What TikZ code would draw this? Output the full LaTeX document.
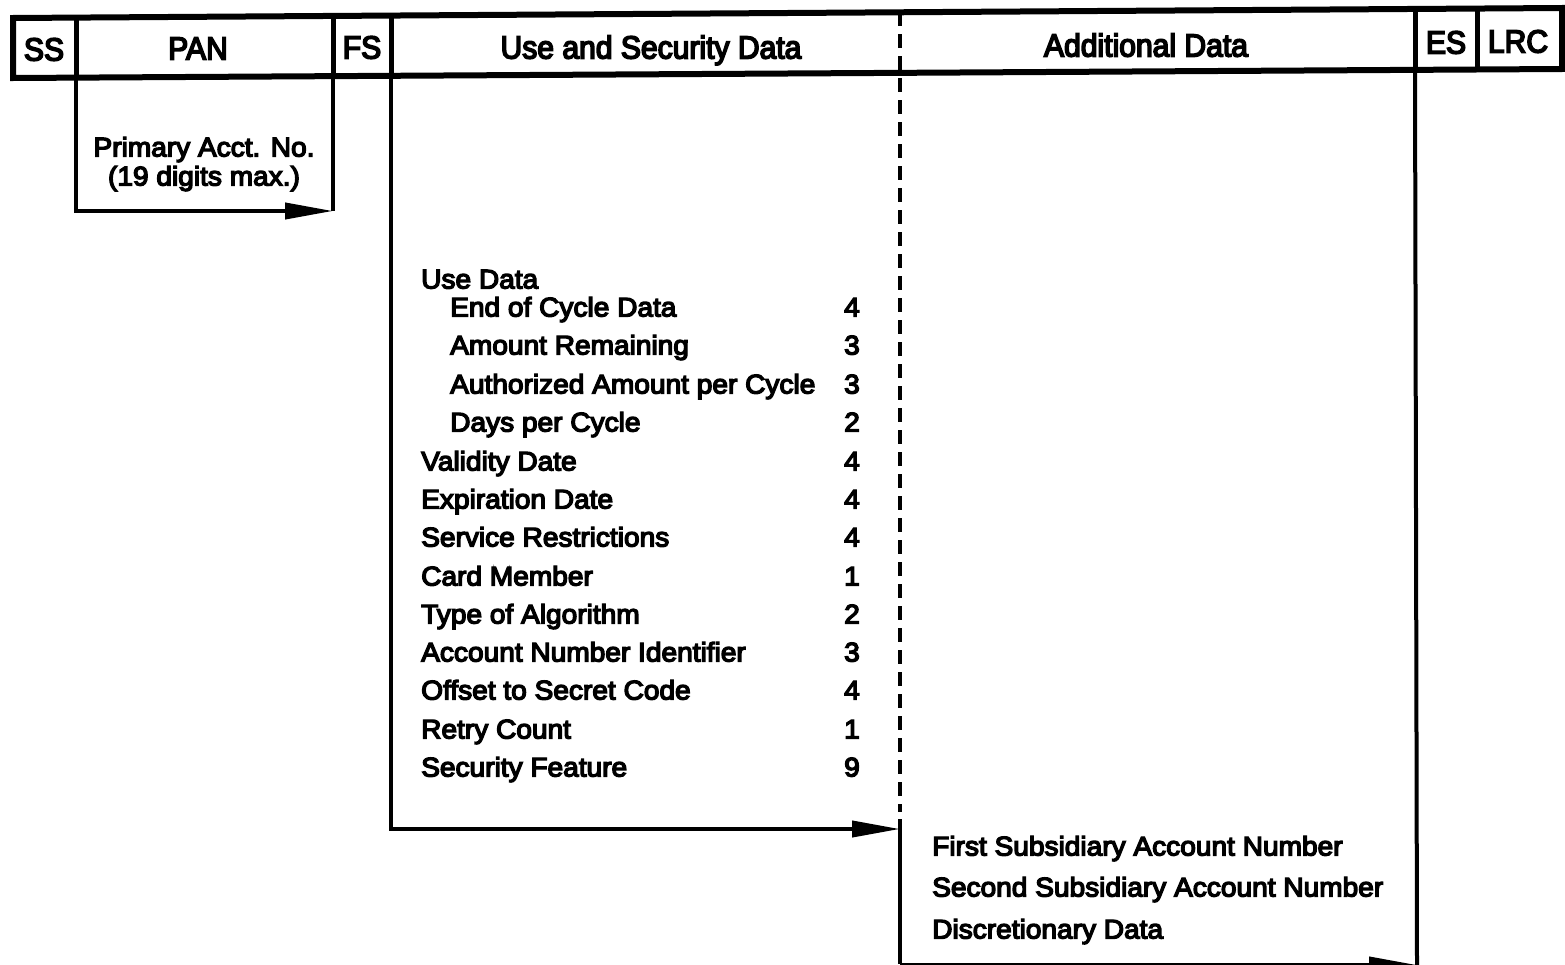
\documentclass[tikz,border=0pt]{standalone}
\usepackage{fontspec}
\setmainfont{Liberation Sans}
\newfontfamily\listfont{Liberation Sans}[FakeBold=5,FakeStretch=1.04]
\newfontfamily\headfont{Liberation Sans}[FakeBold=5,FakeStretch=0.94]
\usetikzlibrary{arrows.meta}
\begin{document}
\begin{tikzpicture}[x=1pt,y=-1pt,line join=miter,
  barline/.style={line width=6pt},
  divider/.style={line width=5pt},
  drop/.style={line width=4pt},
  arr/.style={line width=4pt,-{Triangle[length=48pt,width=16pt]}},
  dashv/.style={line width=4.5pt,dash pattern=on 14pt off 8pt},
  item/.style={inner sep=0pt,anchor=west,text height=19pt,text depth=0pt,
    font=\listfont\fontsize{27}{30}\selectfont},
  num/.style={item,anchor=center},
  head/.style={inner sep=0pt,text height=23pt,text depth=0pt,
    font=\headfont\fontsize{32}{36}\selectfont}]
\useasboundingbox (0,0) rectangle (1565,964);
% bar corners (top t, bottom b)
\coordinate (b0t) at (13,18);    \coordinate (b0b) at (13,78);
\coordinate (b1t) at (76,17.6);  \coordinate (b1b) at (76,77.6);
\coordinate (b2t) at (333,15.9); \coordinate (b2b) at (333,76.1);
\coordinate (b3t) at (391,15.6); \coordinate (b3b) at (391,75.8);
\coordinate (b4t) at (900,12.3); \coordinate (b4b) at (900,72.9);
\coordinate (b5t) at (1415,9.0); \coordinate (b5b) at (1415,69.9);
\coordinate (b6t) at (1477,8.6); \coordinate (b6b) at (1477,69.5);
\coordinate (b7t) at (1562,8.0); \coordinate (b7b) at (1562,69.0);
% expansion corners
\coordinate (panBR) at (333,211);
\coordinate (usdBR) at (900,829);
\coordinate (dashEnd) at (900,812);
\coordinate (solidTop) at (900,819);
\coordinate (solidBot) at (900,964);
\coordinate (addBL) at (900,965);
\coordinate (addBR) at (1417,965);
% bar
\draw[barline] (b0t) -- (b7t) -- (b7b) -- (b0b) -- cycle;
\foreach \k in {1,2,3,5,6} \draw[divider] (b\k t) -- (b\k b);
\draw[dashv] (b4t) -- (dashEnd);
% headings
\node[head] (ss)  at (44,49)   {SS};
\node[head] (pan) at (198,48)  {PAN};
\node[head] (fs)  at (362,47)  {FS};
\node[head] (usd) at (651,47)  {Use and Security Data};
\node[head] (add) at (1146,45) {Additional Data};
\node[head] (es)  at (1446,42) {ES};
\node[head] (lrc) at (1518,41) {LRC};
% PAN expansion
\draw[arr] (b1b) |- (panBR);
\draw[drop] (b2b) -- (panBR);
\node[item,anchor=center] (pan1) at (204,147) {Primary Acct. No.};
\node[item,anchor=center] (pan2) at (204,176) {(19 digits max.)};
% Use and security expansion
\draw[arr] (b3b) |- (usdBR);
\draw[drop] (solidTop) -- (solidBot);
\node[item] (u0) at (421,279) {Use Data};
\node[item] (u1) at (450,307) {End of Cycle Data};
\node[item] (u2) at (450,345) {Amount Remaining};
\node[item] (u3) at (450,384) {Authorized Amount per Cycle};
\node[item] (u4) at (450,422) {Days per Cycle};
\node[item] (u5) at (421,461) {Validity Date};
\node[item] (u6) at (421,499) {Expiration Date};
\node[item] (u7) at (421,537) {Service Restrictions};
\node[item] (u8) at (421,576) {Card Member};
\node[item] (u9) at (421,614) {Type of Algorithm};
\node[item] (u10) at (421,652) {Account Number Identifier};
\node[item] (u11) at (421,690) {Offset to Secret Code};
\node[item] (u12) at (421,729) {Retry Count};
\node[item] (u13) at (421,767) {Security Feature};
\node[num] (n1) at (852,307) {4};
\node[num] (n2) at (852,345) {3};
\node[num] (n3) at (852,384) {3};
\node[num] (n4) at (852,422) {2};
\node[num] (n5) at (852,461) {4};
\node[num] (n6) at (852,499) {4};
\node[num] (n7) at (852,537) {4};
\node[num] (n8) at (852,576) {1};
\node[num] (n9) at (852,614) {2};
\node[num] (n10) at (852,652) {3};
\node[num] (n11) at (852,690) {4};
\node[num] (n12) at (852,729) {1};
\node[num] (n13) at (852,767) {9};
% Additional data expansion
\draw[drop] (b5b) -- (addBR);
\draw[arr] (addBL) -- (addBR);
\node[item] (a1) at (932,846) {First Subsidiary Account Number};
\node[item] (a2) at (932,887) {Second Subsidiary Account Number};
\node[item] (a3) at (932,929) {Discretionary Data};
\end{tikzpicture}
\end{document}
